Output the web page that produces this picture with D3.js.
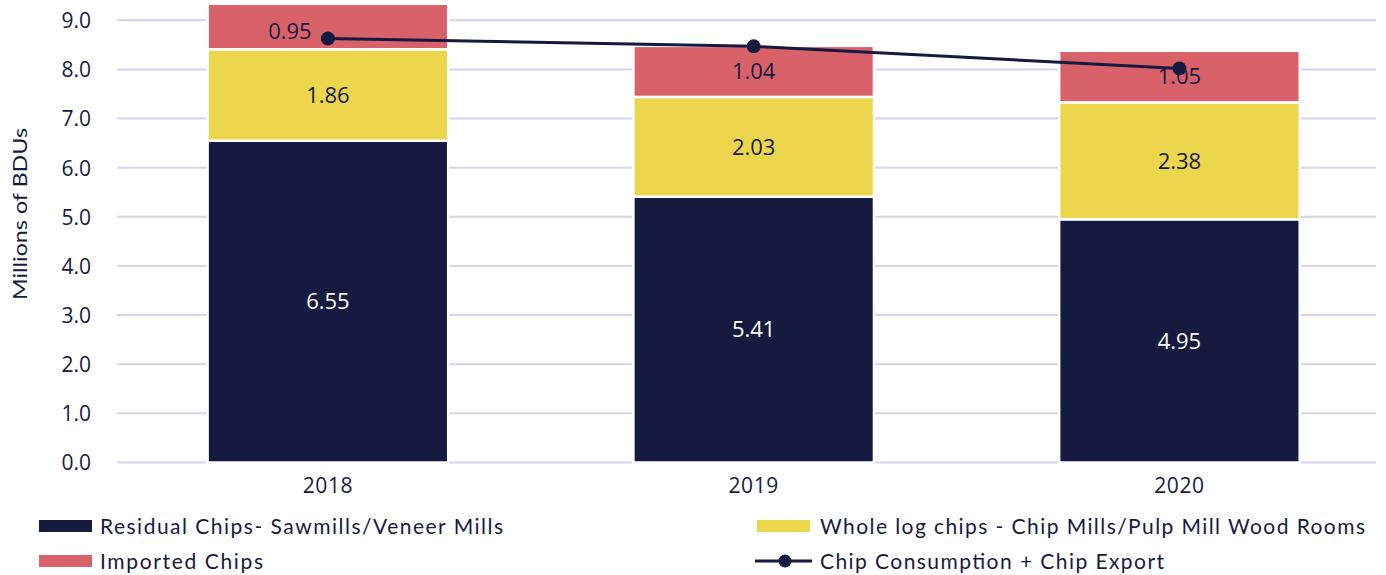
<!DOCTYPE html>
<html>
<head>
<meta charset="utf-8">
<script src="https://cdn.jsdelivr.net/npm/d3@7"></script>
<style>
  html, body { margin: 0; padding: 0; background: #ffffff; }
  svg { display: block; }
</style>
</head>
<body>
<svg id="chart" width="1386" height="575"></svg>
<script>
// Chip supply by source (millions of bone-dry units)
const years = ["2018", "2019", "2020"];
const residualChips = [6.55, 5.41, 4.95];
const wholeLogChips = [1.86, 2.03, 2.38];
const importedChips = [0.95, 1.04, 1.05];
const consumptionExport = [8.63, 8.47, 8.02];
const yTicks = [0, 1, 2, 3, 4, 5, 6, 7, 8, 9];

const seriesNames = [
  "Residual Chips- Sawmills/Veneer Mills",
  "Whole log chips - Chip Mills/Pulp Mill Wood Rooms",
  "Imported Chips",
  "Chip Consumption + Chip Export"
];

const navy = "#161a3f";
const yellow = "#ecd64b";
const red = "#d9626a";
const grid = "#d4d4f0";

const svg = d3.select("#chart");
const plot = { left: 117, right: 1376, top: 5, bottom: 462.5 };

const x = d3.scaleBand()
  .domain(years)
  .range([plot.left, plot.right])
  .paddingInner(0.435)
  .paddingOuter(0.196)
  .align(0.543);

const y = d3.scaleLinear()
  .domain([0, 9])
  .range([plot.bottom, 20.3]);

// gridlines
svg.append("g")
  .selectAll("line")
  .data(yTicks)
  .join("line")
  .attr("x1", plot.left)
  .attr("x2", plot.right)
  .attr("y1", d => y(d))
  .attr("y2", d => y(d))
  .attr("stroke", grid)
  .attr("stroke-width", 2);

// y tick labels
const yAxis = d3.axisLeft(y).tickValues(yTicks).tickFormat(d3.format(".1f")).tickSize(0).tickPadding(0);
const yg = svg.append("g").attr("transform", "translate(91,0)").call(yAxis);
yg.select(".domain").remove();
yg.selectAll("text")
  .attr("font-family", "'Open Sans', sans-serif")
  .attr("font-size", 21)
  .attr("fill", navy)
  .attr("dy", "0.35em");

// y axis title
svg.append("text")
  .attr("transform", "translate(27,214) rotate(-90)")
  .attr("text-anchor", "middle")
  .attr("font-family", "Lato, sans-serif")
  .attr("font-size", 19)
  .attr("fill", navy)
  .attr("textLength", 172)
  .attr("lengthAdjust", "spacingAndGlyphs")
  .text("Millions of BDUs");

// x tick labels
const xAxis = d3.axisBottom(x).tickSize(0).tickPadding(0);
const xg = svg.append("g").attr("transform", "translate(0,486)").call(xAxis);
xg.select(".domain").remove();
xg.selectAll("text")
  .attr("font-family", "'Open Sans', sans-serif")
  .attr("font-size", 21)
  .attr("letter-spacing", 0.6)
  .attr("fill", navy)
  .attr("dy", "0.35em");

// stacked bars
const rows = years.map((yr, i) => ({
  year: yr,
  residual: residualChips[i],
  wholeLog: wholeLogChips[i],
  imported: importedChips[i]
}));
const keys = ["residual", "wholeLog", "imported"];
const colors = { residual: navy, wholeLog: yellow, imported: red };
const labelColors = { residual: "#ffffff", wholeLog: navy, imported: navy };
const stacked = d3.stack().keys(keys)(rows);

svg.append("defs").append("clipPath").attr("id", "plotClip")
  .append("rect")
  .attr("x", 0).attr("y", plot.top)
  .attr("width", 1386).attr("height", plot.bottom - plot.top + 10);

const barsG = svg.append("g").attr("clip-path", "url(#plotClip)");
stacked.forEach(layer => {
  barsG.append("g")
    .selectAll("rect")
    .data(layer)
    .join("rect")
    .attr("x", d => x(d.data.year))
    .attr("width", x.bandwidth())
    .attr("y", d => y(d[1]))
    .attr("height", d => y(d[0]) - y(d[1]))
    .attr("fill", colors[layer.key])
    .attr("stroke", "#ffffff")
    .attr("stroke-width", 2.5);
});

// segment value labels; the 2018 import label sits left of the marker
const labelNudge = { "2018": { imported: [-38, 4] } };
stacked.forEach(layer => {
  svg.append("g")
    .selectAll("text")
    .data(layer)
    .join("text")
    .attr("x", d => {
      const n = (labelNudge[d.data.year] || {})[layer.key];
      return x(d.data.year) + x.bandwidth() / 2 + (n ? n[0] : 0);
    })
    .attr("y", d => {
      const n = (labelNudge[d.data.year] || {})[layer.key];
      const top = Math.max(y(d[1]), plot.top);
      return (top + y(d[0])) / 2 + (n ? n[1] : 0);
    })
    .attr("dy", "0.35em")
    .attr("text-anchor", "middle")
    .attr("font-family", "'Open Sans', sans-serif")
    .attr("font-size", 22)
    .attr("fill", labelColors[layer.key])
    .text(d => d3.format(".2f")(d[1] - d[0]));
});

// consumption + export line
const linePts = years.map((yr, i) => ({ year: yr, v: consumptionExport[i] }));
svg.append("path")
  .datum(linePts)
  .attr("fill", "none")
  .attr("stroke", navy)
  .attr("stroke-width", 3)
  .attr("d", d3.line().x(d => x(d.year) + x.bandwidth() / 2).y(d => y(d.v)));
svg.append("g")
  .selectAll("circle")
  .data(linePts)
  .join("circle")
  .attr("cx", d => x(d.year) + x.bandwidth() / 2)
  .attr("cy", d => y(d.v))
  .attr("r", 7)
  .attr("fill", navy);

// legend
const legendItems = [
  { name: seriesNames[0], kind: "rect", color: navy, sx: 39, tx: 100, cy: 526, w: 403 },
  { name: seriesNames[1], kind: "rect", color: yellow, sx: 757, tx: 820, cy: 526, w: 545 },
  { name: seriesNames[2], kind: "rect", color: red, sx: 39, tx: 100, cy: 561, w: 163 },
  { name: seriesNames[3], kind: "line", color: navy, sx: 755, tx: 820, cy: 561, w: 344 }
];
const lg = svg.append("g");
legendItems.forEach(it => {
  if (it.kind === "rect") {
    lg.append("rect")
      .attr("x", it.sx).attr("y", it.cy - 6)
      .attr("width", 53).attr("height", 12)
      .attr("fill", it.color);
  } else {
    lg.append("line")
      .attr("x1", it.sx).attr("x2", it.sx + 57)
      .attr("y1", it.cy).attr("y2", it.cy)
      .attr("stroke", it.color).attr("stroke-width", 3);
    lg.append("circle")
      .attr("cx", it.sx + 30).attr("cy", it.cy)
      .attr("r", 6.5).attr("fill", it.color);
  }
  lg.append("text")
    .attr("x", it.tx).attr("y", it.cy)
    .attr("dy", "0.36em")
    .attr("font-family", "Lato, sans-serif")
    .attr("font-size", 21)
    .attr("fill", navy)
    .attr("textLength", it.w)
    .attr("lengthAdjust", "spacing")
    .text(it.name);
});
</script>
</body>
</html>
